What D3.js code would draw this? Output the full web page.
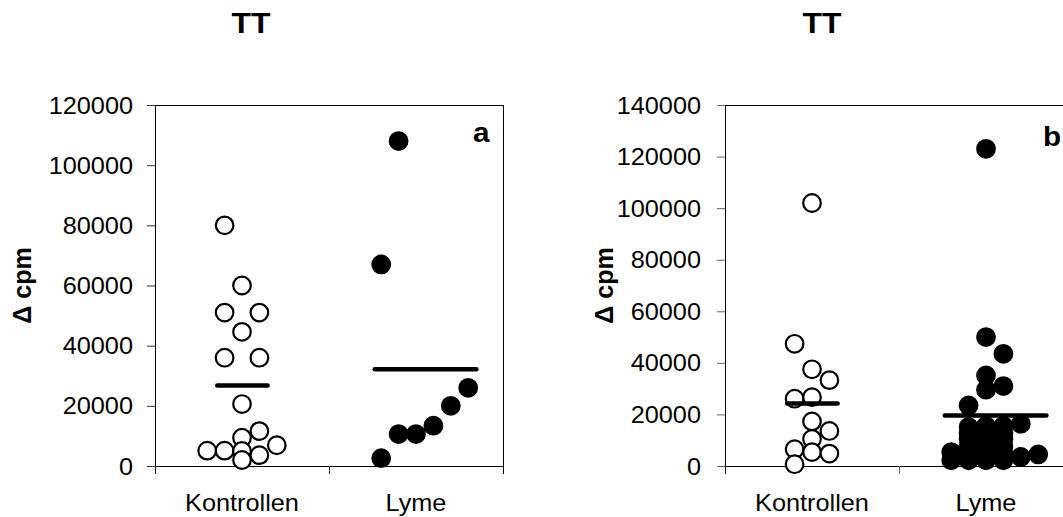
<!DOCTYPE html>
<html>
<head>
<meta charset="utf-8">
<script src="https://cdn.jsdelivr.net/npm/d3@7"></script>
<style>
  html, body { margin: 0; padding: 0; background: #fff; overflow: hidden; }
  svg { display: block; font-family: "Liberation Sans", Arial, Helvetica, sans-serif; }
</style>
</head>
<body>
<svg id="chart" width="1063" height="517"></svg>
<script>
// ---- data -------------------------------------------------------------
const categories = ["Kontrollen", "Lyme"];
const panelTitles = ["TT", "TT"];
const panelLetters = ["a", "b"];
const yAxisLabel = "\u0394 cpm";

const yTicksA = [0, 20000, 40000, 60000, 80000, 100000, 120000];
const yTicksB = [0, 20000, 40000, 60000, 80000, 100000, 120000, 140000];

// Panel a: individual Δcpm values and their beeswarm column (in marker widths)
const aKontrollen    = [80000, 60000, 51000, 51000, 44600, 36000, 36000, 20600, 11600, 9400, 5100, 5100, 5000, 6900, 3600, 2000];
const aKontrollenCol = [-1, 0, -1, 1, 0, -1, 1, 0, 1, 0, -2, -1, 0, 2, 1, 0];
const aLyme          = [108000, 67000, 26000, 20000, 13400, 10600, 10600, 2600];
const aLymeCol       = [-1, -2, 3, 2, 1, 0, -1, -2];
const aMeans         = [26800, 32200];

// Panel b
const bKontrollen    = [102000, 47400, 37500, 33300, 26100, 26700, 17300, 13600, 10500, 6500, 5400, 4800, 700];
const bKontrollenCol = [0, -1, 0, 1, -1, 0, 0, 1, 0, -1, 0, 1, -1];
const bLyme          = [123000, 50000, 43500, 35100, 31000, 29600, 23500,
                        15100, 15500, 15500, 16400,
                        12800, 12800, 12800,
                        10600, 10600, 10600,
                        7800, 7800, 7800,
                        5400, 5000, 5000, 5000, 3500, 4500,
                        2200, 2200, 2200, 2200];
const bLymeCol       = [0, 0, 1, 0, 1, 0, -1,
                        -1, 0, 1, 2,
                        -1, 0, 1,
                        -1, 0, 1,
                        -1, 0, 1,
                        -2, -1, 0, 1, 2, 3,
                        -2, -1, 0, 1];
const bMeans         = [24200, 19600];

// ---- layout -----------------------------------------------------------
const layout = [
  { left: 155, right: 503, top: 105, bottom: 466, yMax: 120000, ticks: yTicksA,
    titleX: 251, letterX: 473, letterY: 142, labelX: 31, tickGap: 22, tickColor: "#333",
    groups: [[aKontrollen, aKontrollenCol], [aLyme, aLymeCol]], means: aMeans },
  { left: 725, right: 1073, top: 105, bottom: 466, yMax: 140000, ticks: yTicksB,
    titleX: 822, letterX: 1043, letterY: 146, labelX: 613, tickGap: 24, tickColor: "#666",
    groups: [[bKontrollen, bKontrollenCol], [bLyme, bLymeCol]], means: bMeans }
];

const colStep = 17.4;          // horizontal spacing of beeswarm columns
const markerR = 8.8;
const meanSpan = [[-1.55, 1.6], [-2.5, 3.6]];  // mean bar extent in column units
const stretch = 1.1;           // horizontal text stretch

const svg = d3.select("#chart");

function stretchedText(g, x, y, str, opts) {
  return g.append("text")
    .attr("transform", `translate(${x},${y}) scale(${stretch},1)`)
    .attr("text-anchor", opts.anchor || "middle")
    .attr("font-size", opts.size)
    .attr("font-weight", opts.weight || "normal")
    .attr("fill", "#000")
    .text(str);
}

layout.forEach((p, pi) => {
  const g = svg.append("g");

  const x = d3.scaleBand().domain(categories).range([p.left, p.right]).padding(0);
  const y = d3.scaleLinear().domain([0, p.yMax]).range([p.bottom, p.top]);

  // Y axis ticks and labels
  const yAxis = d3.axisLeft(y).tickValues(p.ticks).tickSize(8).tickFormat(d3.format("d"));
  const ya = g.append("g").attr("transform", `translate(${p.left},0)`).call(yAxis);
  ya.select(".domain").remove();
  ya.selectAll(".tick line").attr("stroke", p.tickColor).attr("stroke-width", 1);
  ya.selectAll(".tick text")
    .attr("x", null).attr("dy", "0.35em")
    .attr("transform", `translate(${-p.tickGap},0) scale(${stretch},1)`)
    .attr("font-size", 23).attr("font-family", null).attr("fill", "#000");

  // Plot frame: left axis, top border, right border, bottom axis
  const frame = g.append("g").attr("stroke", "#000").attr("stroke-width", 1).attr("shape-rendering", "crispEdges");
  frame.append("line").attr("x1", p.left).attr("x2", p.left).attr("y1", p.top).attr("y2", p.bottom + 8);
  frame.append("line").attr("x1", p.left).attr("x2", p.right).attr("y1", p.top).attr("y2", p.top);
  frame.append("line").attr("x1", p.right).attr("x2", p.right).attr("y1", p.top).attr("y2", p.bottom + 8);
  frame.append("line").attr("x1", p.left).attr("x2", p.right).attr("y1", p.bottom).attr("y2", p.bottom);
  // category separator tick
  frame.append("line")
    .attr("x1", x(categories[1])).attr("x2", x(categories[1]))
    .attr("y1", p.bottom).attr("y2", p.bottom + 8)
    .attr("stroke", p.tickColor);

  // Category labels
  categories.forEach(c => {
    stretchedText(g, x(c) + x.bandwidth() / 2, 511, c, { size: 23 });
  });

  // Points
  p.groups.forEach(([vals, cols], gi) => {
    const cx = x(categories[gi]) + x.bandwidth() / 2;
    g.append("g").selectAll("circle")
      .data(vals.map((v, i) => ({ v, c: cols[i] })))
      .join("circle")
      .attr("cx", d => cx + d.c * colStep)
      .attr("cy", d => y(d.v))
      .attr("r", markerR)
      .attr("fill", gi === 0 ? "#fff" : "#000")
      .attr("stroke", "#000")
      .attr("stroke-width", 2.2);
  });

  // Group mean bars
  p.means.forEach((m, gi) => {
    const cx = x(categories[gi]) + x.bandwidth() / 2;
    g.append("line")
      .attr("x1", cx + meanSpan[gi][0] * colStep + 2.25)
      .attr("x2", cx + meanSpan[gi][1] * colStep - 2.25)
      .attr("y1", y(m)).attr("y2", y(m))
      .attr("stroke", "#000").attr("stroke-width", 4.5)
      .attr("stroke-linecap", "round");
  });

  // Title, panel letter, y-axis label
  stretchedText(g, p.titleX, 33, panelTitles[pi], { size: 29, weight: "bold" });
  stretchedText(g, p.letterX, p.letterY, panelLetters[pi], { size: 27, weight: "bold", anchor: "start" });
  g.append("text")
    .attr("transform", `translate(${p.labelX},${(p.top + p.bottom) / 2}) rotate(-90)`)
    .attr("text-anchor", "middle")
    .attr("font-size", 25)
    .attr("font-weight", "bold")
    .attr("fill", "#000")
    .text(yAxisLabel);
});
</script>
</body>
</html>
